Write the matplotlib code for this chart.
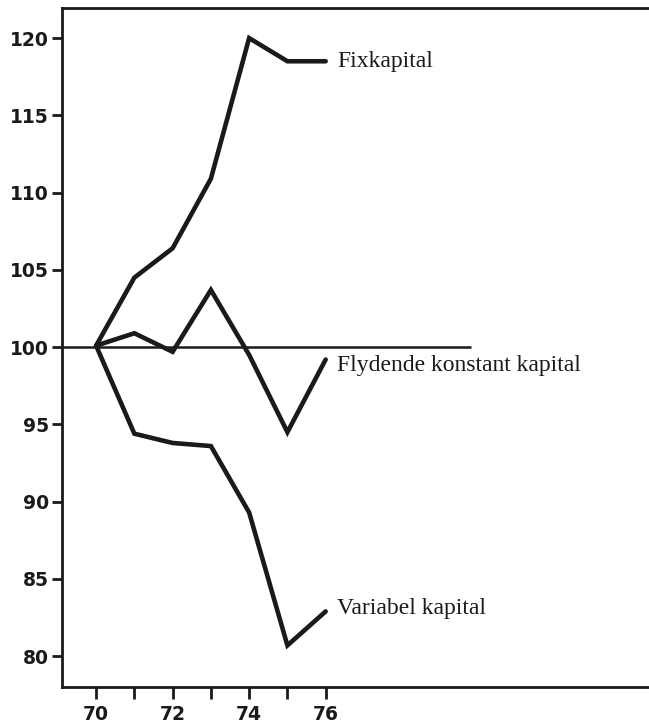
import matplotlib
matplotlib.use("Agg")
import matplotlib.pyplot as plt

years = [70, 71, 72, 73, 74, 75, 76]
fixkapital = [100.1, 104.5, 106.4, 110.9, 120.0, 118.5, 118.5]
flydende = [100.1, 100.9, 99.7, 103.7, 99.5, 94.5, 99.2]
variabel = [100.1, 94.4, 93.8, 93.6, 89.3, 80.7, 82.9]
labels = ["Fixkapital", "Flydende konstant kapital", "Variabel kapital"]
yticks = [80, 85, 90, 95, 100, 105, 110, 115, 120]
xticks = [70, 71, 72, 73, 74, 75, 76]
xticklabels = ["70", "", "72", "", "74", "", "76"]

fig = plt.figure(figsize=(6.49, 7.23), dpi=100)
ax = fig.add_axes([0.095, 0.0496, 0.905, 0.9394])
ax.set_xlim(69.1, 84.45)
ax.set_ylim(78.0, 121.95)

ax.plot([ax.get_xlim()[0], 79.8], [100, 100], color="#1a1a1a", lw=1.8, solid_capstyle="butt")
for s, lab, dy in zip([fixkapital, flydende, variabel], labels, [0, -0.4, 0.2]):
    ax.plot(years, s, color="#1a1a1a", lw=3.3, solid_capstyle="round", solid_joinstyle="miter")
    ax.text(76.3, s[-1] + dy, lab, family="Liberation Serif", fontsize=17,
            va="center", ha="left", color="#1a1a1a")

ax.set_xticks(xticks)
ax.set_xticklabels(xticklabels)
ax.set_yticks(yticks)
for sp in ["left", "bottom", "top"]:
    ax.spines[sp].set_linewidth(2.0)
    ax.spines[sp].set_color("#1a1a1a")
ax.spines["right"].set_visible(False)
ax.tick_params(axis="y", direction="out", length=7, width=2.0, color="#1a1a1a",
               labelsize=13.5, pad=2)
ax.tick_params(axis="x", direction="out", length=8.5, width=2.0, color="#1a1a1a",
               labelsize=13.5, pad=4)
for t in ax.get_xticklabels() + ax.get_yticklabels():
    t.set_family("DejaVu Sans")
    t.set_fontweight("bold")
    t.set_color("#1a1a1a")

fig.savefig("out.png", dpi=100)
